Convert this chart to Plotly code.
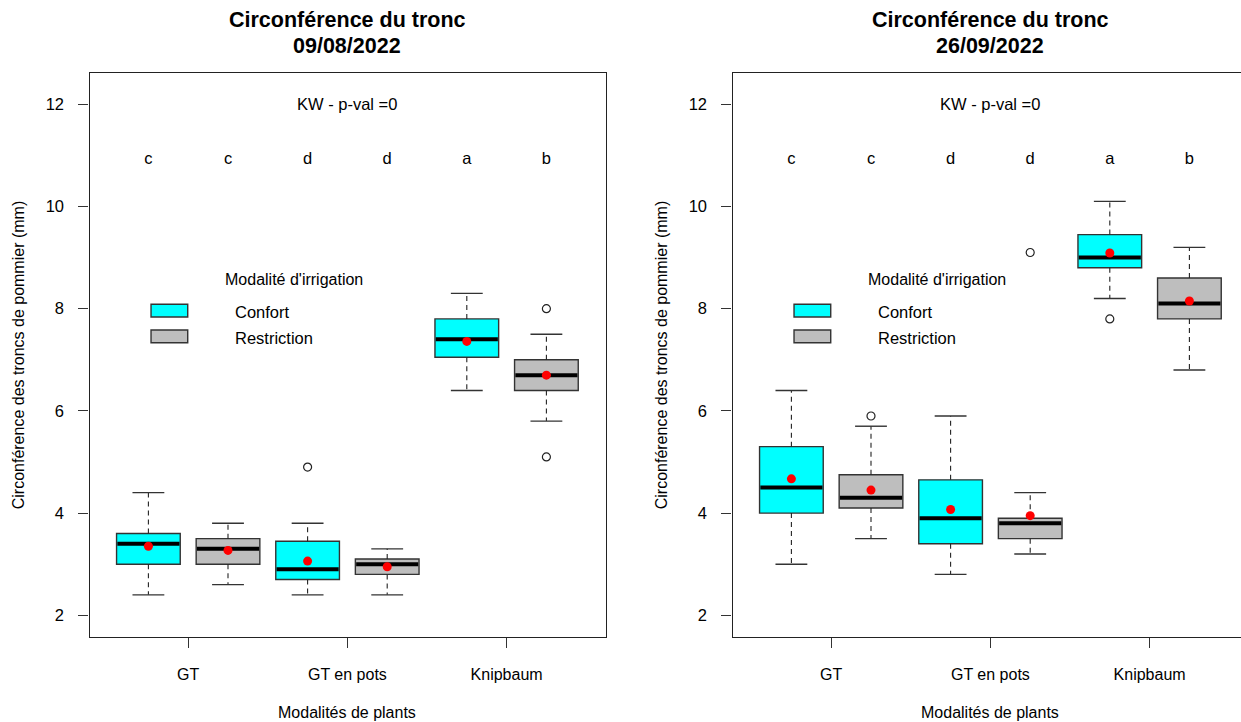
import plotly.graph_objects as go

# ---------------- data ----------------
categories = ["GT", "GT en pots", "Knipbaum"]
modalities = ["Confort", "Restriction"]
dates = ["09/08/2022", "26/09/2022"]
positions = [1, 2, 3, 4, 5, 6]  # GT-C, GT-R, pots-C, pots-R, Knip-C, Knip-R
letters = ["c", "c", "d", "d", "a", "b"]

# Panel 1 : 09/08/2022
p1_lower = [2.4, 2.6, 2.4, 2.4, 6.4, 5.8]
p1_q1 = [3.0, 3.0, 2.7, 2.8, 7.05, 6.4]
p1_med = [3.4, 3.3, 2.9, 3.0, 7.4, 6.7]
p1_q3 = [3.6, 3.5, 3.45, 3.1, 7.8, 7.0]
p1_upper = [4.4, 3.8, 3.8, 3.3, 8.3, 7.5]
p1_mean = [3.35, 3.27, 3.06, 2.95, 7.36, 6.70]
p1_out_x = [3, 6, 6]
p1_out_y = [4.9, 8.0, 5.1]

# Panel 2 : 26/09/2022
p2_lower = [3.0, 3.5, 2.8, 3.2, 8.2, 6.8]
p2_q1 = [4.0, 4.1, 3.4, 3.5, 8.8, 7.8]
p2_med = [4.5, 4.3, 3.9, 3.8, 9.0, 8.1]
p2_q3 = [5.3, 4.75, 4.65, 3.9, 9.45, 8.6]
p2_upper = [6.4, 5.7, 5.9, 4.4, 10.1, 9.2]
p2_mean = [4.67, 4.45, 4.07, 3.95, 9.09, 8.15]
p2_out_x = [2, 4, 5]
p2_out_y = [5.9, 9.1, 7.8]

kw_text = "KW - p-val =0"
y_ticks = [2, 4, 6, 8, 10, 12]

# ---------------- style ----------------
W, H = 1241, 722
FONT = "Liberation Sans, Arial, sans-serif"
CYAN = "#00FFFF"
GRAY = "#BEBEBE"
EDGE = "#333333"
BOXW = 0.8
CAPW = 0.2

panels = [
    dict(lower=p1_lower, q1=p1_q1, med=p1_med, q3=p1_q3, upper=p1_upper,
         mean=p1_mean, ox=p1_out_x, oy=p1_out_y),
    dict(lower=p2_lower, q1=p2_q1, med=p2_med, q3=p2_q3, upper=p2_upper,
         mean=p2_mean, ox=p2_out_x, oy=p2_out_y),
]

# pixel layout
px_unit = 79.6
left_px = [89.5, 732.5]
right_px = [605.5, 1241.0]
top_px, bot_px = 73.3, 637.3
x0 = 0.26
yrange = [1.569, 12.607]

fig = go.Figure()

for i, p in enumerate(panels):
    xa = "x" if i == 0 else "x2"
    ya = "y" if i == 0 else "y2"
    for m, col in zip(range(2), [CYAN, GRAY]):
        idx = [k for k in range(6) if k % 2 == m]
        fig.add_trace(go.Bar(
            x=[positions[k] for k in idx],
            y=[p["q3"][k] - p["q1"][k] for k in idx],
            base=[p["q1"][k] for k in idx],
            width=BOXW, marker=dict(color=col, line=dict(color=EDGE, width=1.4)),
            xaxis=xa, yaxis=ya, showlegend=False, hoverinfo="skip"))
    # whiskers (dashed)
    wx, wy = [], []
    for k in range(6):
        wx += [positions[k], positions[k], None, positions[k], positions[k], None]
        wy += [p["q3"][k], p["upper"][k], None, p["q1"][k], p["lower"][k], None]
    fig.add_trace(go.Scatter(x=wx, y=wy, mode="lines",
                             line=dict(color="#222222", width=1.1, dash="5px,4px"),
                             xaxis=xa, yaxis=ya, showlegend=False, hoverinfo="skip"))
    # caps
    cx, cy = [], []
    for k in range(6):
        for v in (p["upper"][k], p["lower"][k]):
            cx += [positions[k] - CAPW, positions[k] + CAPW, None]
            cy += [v, v, None]
    fig.add_trace(go.Scatter(x=cx, y=cy, mode="lines",
                             line=dict(color=EDGE, width=1.4),
                             xaxis=xa, yaxis=ya, showlegend=False, hoverinfo="skip"))
    # medians
    mx, my = [], []
    for k in range(6):
        mx += [positions[k] - BOXW / 2 + 0.01, positions[k] + BOXW / 2 - 0.01, None]
        my += [p["med"][k], p["med"][k], None]
    fig.add_trace(go.Scatter(x=mx, y=my, mode="lines",
                             line=dict(color="black", width=4),
                             xaxis=xa, yaxis=ya, showlegend=False, hoverinfo="skip"))
    # outliers
    fig.add_trace(go.Scatter(x=p["ox"], y=p["oy"], mode="markers",
                             marker=dict(symbol="circle-open", size=8,
                                         color="#222222", line=dict(width=1.2)),
                             xaxis=xa, yaxis=ya, showlegend=False, hoverinfo="skip"))
    # means
    fig.add_trace(go.Scatter(x=positions, y=p["mean"], mode="markers",
                             marker=dict(symbol="circle", size=9, color="red"),
                             xaxis=xa, yaxis=ya, showlegend=False, hoverinfo="skip"))
    # letters
    fig.add_trace(go.Scatter(x=positions, y=[10.92] * 6, mode="text", text=letters,
                             textfont=dict(family=FONT, size=16.5, color="black"),
                             xaxis=xa, yaxis=ya, showlegend=False, hoverinfo="skip"))

annotations = []
shapes = []
for i in range(2):
    xa = "x" if i == 0 else "x2"
    ya = "y" if i == 0 else "y2"
    cpx = (left_px[i] + left_px[i] + 6.48 * px_unit) / 2
    annotations += [
        dict(text="<b>Circonférence du tronc</b>", x=cpx / W, y=1 - 20 / H,
             xref="paper", yref="paper", showarrow=False, xanchor="center",
             yanchor="middle", font=dict(family=FONT, size=21.5, color="black")),
        dict(text="<b>%s</b>" % dates[i], x=cpx / W, y=1 - 46 / H,
             xref="paper", yref="paper", showarrow=False, xanchor="center",
             yanchor="middle", font=dict(family=FONT, size=21.5, color="black")),
        dict(text=kw_text, x=3.5, y=12, xref=xa, yref=ya, showarrow=False,
             xanchor="center", yanchor="middle",
             font=dict(family=FONT, size=16.5, color="black")),
        dict(text="Modalités de plants", x=cpx / W, y=1 - 712 / H,
             xref="paper", yref="paper", showarrow=False, xanchor="center",
             yanchor="middle", font=dict(family=FONT, size=16, color="black")),
        dict(text="Circonférence des troncs de pommier (mm)",
             x=(18 if i == 0 else 661) / W, y=1 - 355.3 / H, textangle=-90,
             xref="paper", yref="paper", showarrow=False, xanchor="center",
             yanchor="middle", font=dict(family=FONT, size=16, color="black")),
        # legend
        dict(text="Modalité d'irrigation", x=1.941, y=8.575, xref=xa, yref=ya,
             showarrow=False, xanchor="left", yanchor="middle",
             font=dict(family=FONT, size=16, color="black")),
        dict(text=modalities[0], x=2.067, y=7.93, xref=xa, yref=ya,
             showarrow=False, xanchor="left", yanchor="middle",
             font=dict(family=FONT, size=16.5, color="black")),
        dict(text=modalities[1], x=2.067, y=7.43, xref=xa, yref=ya,
             showarrow=False, xanchor="left", yanchor="middle",
             font=dict(family=FONT, size=16.5, color="black")),
    ]
    shapes += [
        dict(type="rect", xref=xa, yref=ya, x0=1.033, x1=1.494, y0=7.838, y1=8.086,
             fillcolor=CYAN, line=dict(color=EDGE, width=1.4)),
        dict(type="rect", xref=xa, yref=ya, x0=1.033, x1=1.494, y0=7.335, y1=7.583,
             fillcolor=GRAY, line=dict(color=EDGE, width=1.4)),
    ]

common_x = dict(tickvals=[1.5, 3.5, 5.5], ticktext=categories, ticks="outside",
                ticklen=10, tickcolor="#333333", showline=True, linecolor="#222222",
                linewidth=1.3, showgrid=False, zeroline=False,
                tickfont=dict(family=FONT, size=16, color="black"),
                ticklabelstandoff=12)
common_y = dict(range=yrange, tickvals=y_ticks, ticks="outside", ticklen=10,
                tickcolor="#333333", showline=True, linecolor="#222222",
                linewidth=1.3, showgrid=False, zeroline=False,
                tickfont=dict(family=FONT, size=16.5, color="black"),
                ticklabelstandoff=11)

ydom = [1 - bot_px / H, 1 - top_px / H]
fig.update_layout(
    width=W, height=H, margin=dict(l=0, r=0, t=0, b=0, pad=0),
    paper_bgcolor="white", plot_bgcolor="white", barmode="overlay",
    showlegend=False,
    xaxis=dict(domain=[left_px[0] / W, right_px[0] / W],
               range=[x0, x0 + (right_px[0] - left_px[0]) / px_unit],
               mirror=True, **common_x),
    yaxis=dict(domain=ydom, mirror=True, **common_y),
    xaxis2=dict(domain=[left_px[1] / W, 1.0],
                range=[x0, x0 + (right_px[1] - left_px[1]) / px_unit],
                mirror=True, anchor="y2", **common_x),
    yaxis2=dict(domain=ydom, mirror=False, anchor="x2", **common_y),
    annotations=annotations, shapes=shapes,
)

fig.write_html("out.html")
